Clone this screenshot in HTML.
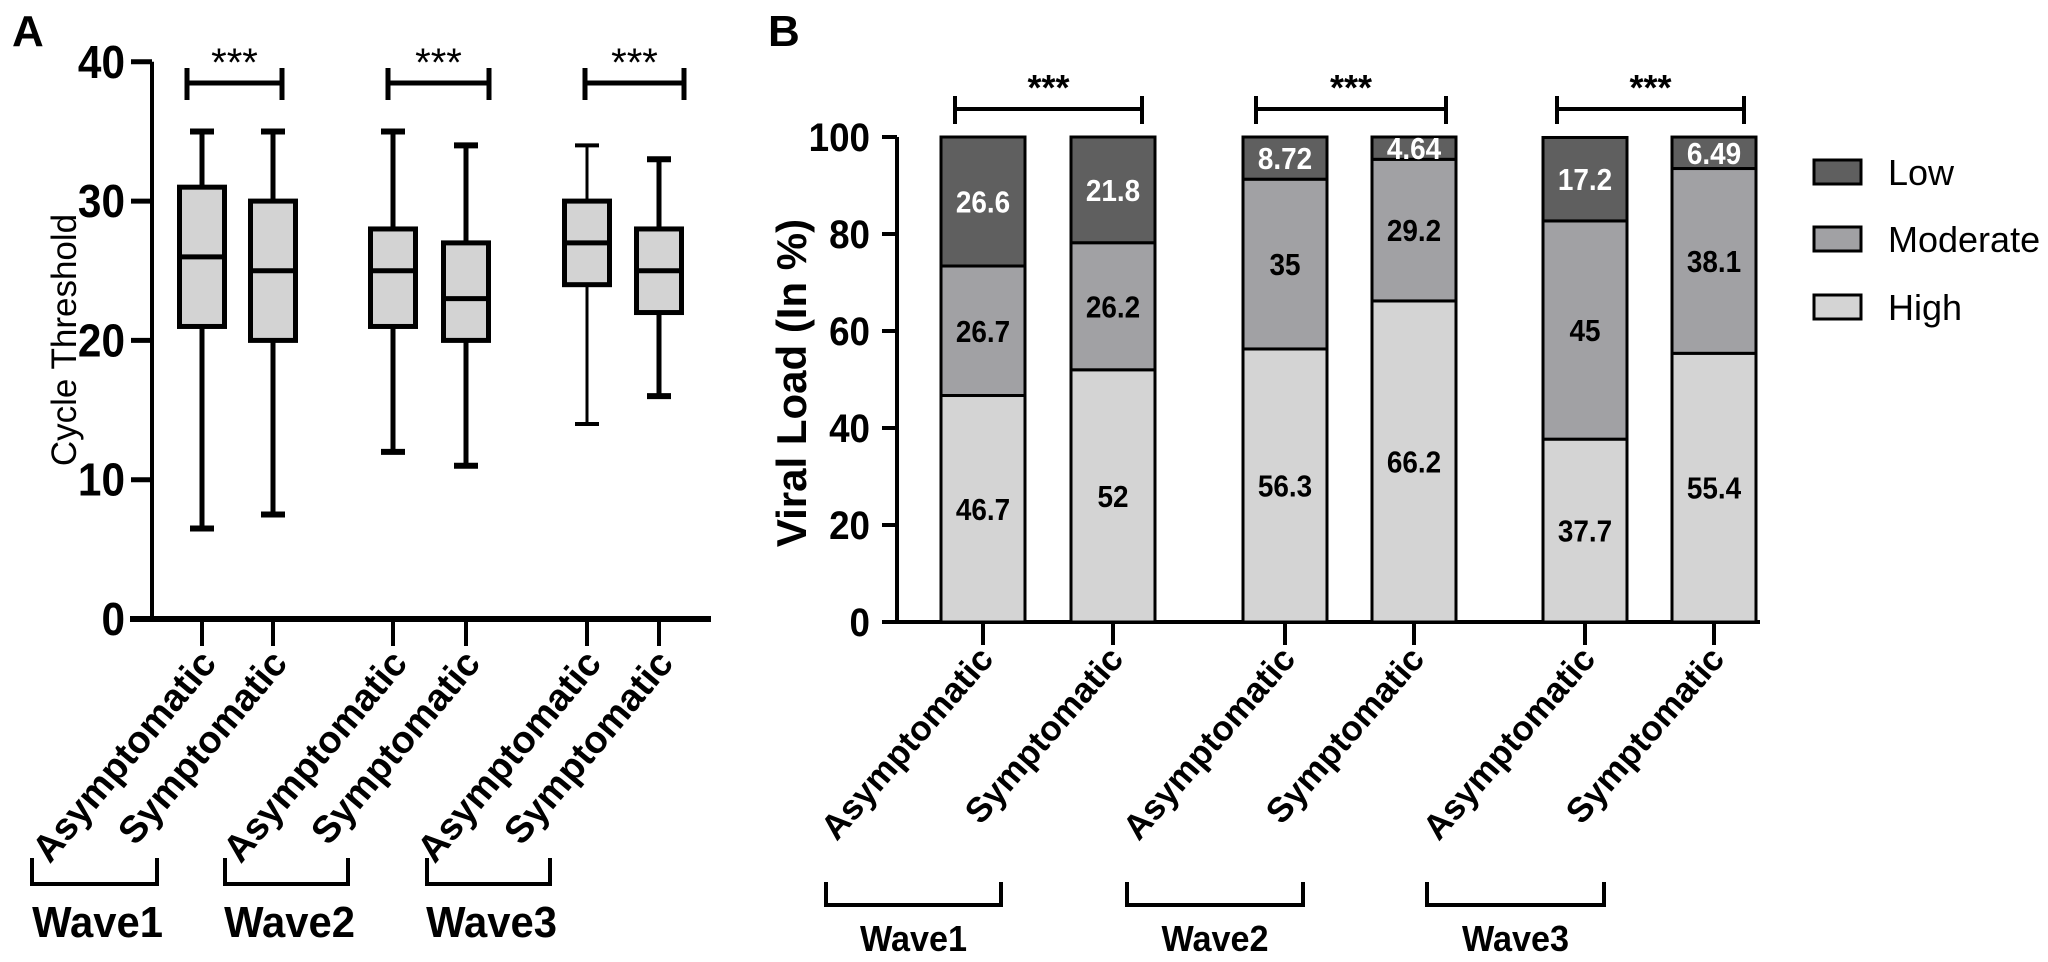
<!DOCTYPE html>
<html><head><meta charset="utf-8">
<style>
html,body{margin:0;padding:0;background:#fff;}
svg{display:block;}
text{font-family:"Liberation Sans",Arial,sans-serif;}
.n{font-family:"Liberation Sans Narrow","Liberation Sans",Arial,sans-serif;font-weight:bold;}
</style></head>
<body>
<svg id="fig" width="2048" height="962" viewBox="0 0 2048 962" xmlns="http://www.w3.org/2000/svg">
<text x="12" y="46" font-size="44" font-weight="bold">A</text>
<text x="768" y="46" font-size="44" font-weight="bold">B</text>
<g id="pa"></g>
<g id="pb"></g>
</svg>
<script>
// ---- Panel A data ----
const boxGroups = ["Asymptomatic","Symptomatic","Asymptomatic","Symptomatic","Asymptomatic","Symptomatic"];
const boxMin = [6.5, 7.5, 12, 11, 14, 16];
const boxQ1 = [21, 20, 21, 20, 24, 22];
const boxMed = [26, 25, 25, 23, 27, 25];
const boxQ3 = [31, 30, 28, 27, 30, 28];
const boxMax = [35, 35, 35, 34, 34, 33];
const aTicks = [0, 10, 20, 30, 40];
const waves = ["Wave1","Wave2","Wave3"];
// ---- Panel B data ----
const barGroups = ["Asymptomatic","Symptomatic","Asymptomatic","Symptomatic","Asymptomatic","Symptomatic"];
const highVals = [46.7, 52, 56.3, 66.2, 37.7, 55.4];
const modVals = [26.7, 26.2, 35, 29.2, 45, 38.1];
const lowVals = [26.6, 21.8, 8.72, 4.64, 17.2, 6.49];
const bTicks = [0, 20, 40, 60, 80, 100];
const legendLabels = ["Low","Moderate","High"];

const NS = "http://www.w3.org/2000/svg";
function mk(parent, tag, attrs, txt){
  const e = document.createElementNS(NS, tag);
  for (const k in attrs) e.setAttribute(k, attrs[k]);
  if (txt !== undefined) e.textContent = txt;
  parent.appendChild(e);
  return e;
}

// ===== Panel A =====
const pa = document.getElementById('pa');
const aY = v => 619 - v * 13.93;
const aX = [202, 273, 393, 466, 587, 659];
let e;
e = mk(pa, 'line', {x1:152, y1:aY(40), x2:152, y2:621, stroke:'#000','stroke-width':4});
 
e = mk(pa, 'line', {x1:130, y1:619, x2:711, y2:619, stroke:'#000','stroke-width':6});
 
aTicks.forEach(t => {
  e = mk(pa, 'line', {x1:131, y1:aY(t), x2:152, y2:aY(t), stroke:'#000','stroke-width':5});
   
  e = mk(pa, 'text', {x:0, y:0, 'font-size':46, 'text-anchor':'end', class:'n', transform:`translate(125,${aY(t)+16}) scale(0.92,1)`}, String(t));
   
});
e = mk(pa, 'text', {x:0, y:0, 'font-size':35, 'text-anchor':'middle', transform:'translate(76,340) rotate(-90)'}, 'Cycle Threshold');
 
boxGroups.forEach((g, i) => {
  const cx = aX[i], w = 45, lw = 5, wl = (i === 4) ? 3 : 5;
  e = mk(pa, 'line', {x1:cx, y1:aY(boxMax[i]), x2:cx, y2:aY(boxMin[i]), stroke:'#000','stroke-width':wl});
   
  [boxMax[i], boxMin[i]].forEach(v => {
    e = mk(pa, 'line', {x1:cx-12, y1:aY(v), x2:cx+12, y2:aY(v), stroke:'#000','stroke-width':wl+1});
     
  });
  e = mk(pa, 'rect', {x:cx-w/2, y:aY(boxQ3[i]), width:w, height:aY(boxQ1[i])-aY(boxQ3[i]), fill:'#d3d3d3', stroke:'#000','stroke-width':lw});
   
  e = mk(pa, 'line', {x1:cx-w/2, y1:aY(boxMed[i]), x2:cx+w/2, y2:aY(boxMed[i]), stroke:'#000','stroke-width':lw});
   
  e = mk(pa, 'line', {x1:cx, y1:621, x2:cx, y2:646, stroke:'#000','stroke-width':4});
   
  e = mk(pa, 'text', {x:0, y:0, 'font-size':38, 'font-weight':'bold', 'text-anchor':'end', transform:`translate(${cx+16},${664}) rotate(-50)`}, g);
   
});
const aBr = [[187,282],[388,489],[585,684]];
aBr.forEach(b => {
  e = mk(pa, 'path', {d:`M${b[0]} 68 V100 M${b[0]} 83 H${b[1]} M${b[1]} 68 V100`, stroke:'#000','stroke-width':5, fill:'none'});
   
  e = mk(pa, 'text', {x:(b[0]+b[1])/2, y:76, 'font-size':40, 'text-anchor':'middle'}, '***');
   
});
const aWave = [[32,157],[225,348],[427,550]];
waves.forEach((wv, i) => {
  const b = aWave[i];
  e = mk(pa, 'path', {d:`M${b[0]} 858 V884 H${b[1]} V858`, stroke:'#000','stroke-width':4, fill:'none'});
   
  e = mk(pa, 'text', {x:0, y:0, 'font-size':44, 'text-anchor':'middle', class:'n', transform:`translate(${(b[0]+b[1])/2+3},937) scale(0.95,1)`}, wv);
   
});

// ===== Panel B =====
const pb = document.getElementById('pb');
const bY = v => 622 - v * 4.85;
const bX = [983, 1113, 1285, 1414, 1585, 1714];
const bw = 84;
e = mk(pb, 'line', {x1:897, y1:bY(100), x2:897, y2:623, stroke:'#000','stroke-width':4});
 
e = mk(pb, 'line', {x1:882, y1:622, x2:1760, y2:622, stroke:'#000','stroke-width':4});
 
bTicks.forEach(t => {
  e = mk(pb, 'line', {x1:882, y1:bY(t), x2:897, y2:bY(t), stroke:'#000','stroke-width':4});
   
  e = mk(pb, 'text', {x:0, y:0, 'font-size':40, 'text-anchor':'end', class:'n', transform:`translate(870,${bY(t)+14}) scale(0.92,1)`}, String(t));
   
});
e = mk(pb, 'text', {x:0, y:0, 'font-size':42, 'font-weight':'bold', 'text-anchor':'middle', transform:'translate(806,383) rotate(-90)'}, 'Viral Load (In %)');
 
const colHigh = '#d4d4d4', colMod = '#a1a1a4', colLow = '#5f5f5f';
barGroups.forEach((g, i) => {
  const x = bX[i] - bw/2;
  const segs = [[highVals[i], colHigh, '#000', 'b-bar-high'], [modVals[i], colMod, '#000', 'b-bar-moderate'], [lowVals[i], colLow, '#fff', 'b-bar-low']];
  let base = 0;
  segs.forEach(s => {
    const top = Math.min(100, base + s[0]);
    e = mk(pb, 'rect', {x:x, y:bY(top), width:bw, height:bY(base)-bY(top), fill:s[1], stroke:'#000','stroke-width':3});
     
    const mid = (base + top) / 2;
    e = mk(pb, 'text', {x:0, y:0, 'font-size':31, 'text-anchor':'middle', class:'n', fill:s[2], transform:`translate(${bX[i]},${bY(mid)+11}) scale(0.9,1)`}, String(s[0]));
     
    base = top;
  });
  e = mk(pb, 'line', {x1:bX[i], y1:623, x2:bX[i], y2:645, stroke:'#000','stroke-width':4});
   
  e = mk(pb, 'text', {x:0, y:0, 'font-size':35, 'font-weight':'bold', 'text-anchor':'end', transform:`translate(${bX[i]+12},${660}) rotate(-49)`}, g);
   
});
const bBr = [[955,1142],[1256,1446],[1557,1744]];
bBr.forEach(b => {
  e = mk(pb, 'path', {d:`M${b[0]} 96 V124 M${b[0]} 109 H${b[1]} M${b[1]} 96 V124`, stroke:'#000','stroke-width':4, fill:'none'});
   
  e = mk(pb, 'text', {x:(b[0]+b[1])/2, y:100, 'font-size':36, 'font-weight':'bold', 'text-anchor':'middle'}, '***');
   
});
const bWave = [[826,1001],[1127,1303],[1427,1604]];
waves.forEach((wv, i) => {
  const b = bWave[i];
  e = mk(pb, 'path', {d:`M${b[0]} 882 V905 H${b[1]} V882`, stroke:'#000','stroke-width':4, fill:'none'});
   
  e = mk(pb, 'text', {x:0, y:0, 'font-size':36, 'text-anchor':'middle', class:'n', transform:`translate(${(b[0]+b[1])/2},951) scale(0.95,1)`}, wv);
   
});
const legCols = [colLow, colMod, colHigh];
const legY = [172, 239, 307];
legendLabels.forEach((l, i) => {
  e = mk(pb, 'rect', {x:1814, y:legY[i]-12, width:47, height:24, fill:legCols[i], stroke:'#000','stroke-width':3});
   
  e = mk(pb, 'text', {x:1888, y:legY[i]+13, 'font-size':36}, l);
   
});
</script>
</body></html>
